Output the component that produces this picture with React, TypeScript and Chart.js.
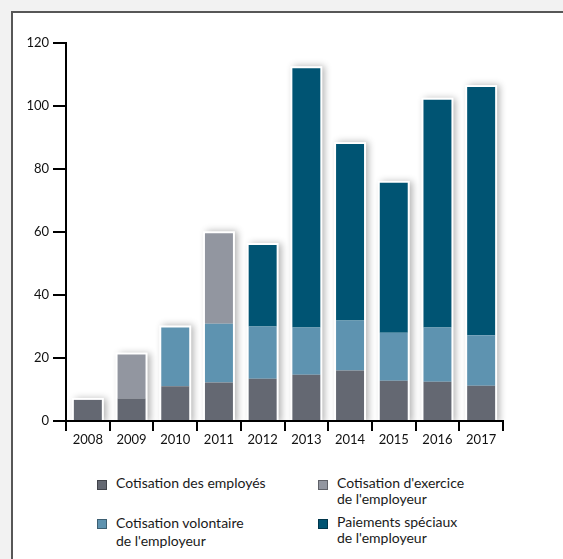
import React, { useEffect, useRef } from "react";
import { Chart, registerables } from "chart.js";

Chart.register(...registerables);

const years = ["2008", "2009", "2010", "2011", "2012", "2013", "2014", "2015", "2016", "2017"];
const employes = [6.7, 7.1, 11.0, 12.2, 13.4, 14.7, 16.0, 12.8, 12.5, 11.2];
const volontaire = [0, 0, 18.7, 18.7, 16.6, 15.0, 15.9, 15.2, 17.2, 16.0];
const exercice = [0, 14.0, 0, 28.7, 0, 0, 0, 0, 0, 0];
const speciaux = [0, 0, 0, 0, 25.9, 82.3, 56.0, 47.6, 72.3, 78.8];
const yTicks = [0, 20, 40, 60, 80, 100, 120];

const C_EMP = "#646872";
const C_EXE = "#9296a0";
const C_VOL = "#5e93b0";
const C_SPE = "#005473";

const legendItems = [
  { color: C_EMP, lines: ["Cotisation des employés"], left: 97, top: 475, lh: 16 },
  { color: C_EXE, lines: ["Cotisation d'exercice", "de l'employeur"], left: 318, top: 475, lh: 16 },
  { color: C_VOL, lines: ["Cotisation volontaire", "de l'employeur"], left: 97, top: 514, lh: 18 },
  { color: C_SPE, lines: ["Paiements spéciaux", "de l'employeur"], left: 318, top: 514, lh: 16 },
];

const stackFrame = {
  id: "stackFrame",
  beforeDatasetsDraw(chart: any) {
    const ctx = chart.ctx;
    const meta0 = chart.getDatasetMeta(0);
    const y = chart.scales.y;
    const area = chart.chartArea;
    ctx.save();
    ctx.beginPath();
    ctx.rect(area.left + 1, 0, area.right - area.left + 30, area.bottom - 1);
    ctx.clip();
    meta0.data.forEach((bar: any, i: number) => {
      let total = 0;
      chart.data.datasets.forEach((ds: any) => {
        total += ds.data[i] || 0;
      });
      const top = y.getPixelForValue(total);
      const base = y.getPixelForValue(0);
      const w = bar.width;
      ctx.shadowColor = "rgba(0,0,0,0.30)";
      ctx.shadowBlur = 7;
      ctx.shadowOffsetX = 3;
      ctx.shadowOffsetY = 0;
      ctx.fillStyle = "#ffffff";
      ctx.fillRect(bar.x - w / 2 - 2, top - 2, w + 4, base - top + 4);
    });
    ctx.restore();
  },
};

export default function App() {
  const ref = useRef<HTMLCanvasElement | null>(null);
  useEffect(() => {
    if (!ref.current) return;
    const font = { family: "Lato", size: 13 };
    const mk = (label: string, data: number[], color: string) => ({
      label,
      data,
      backgroundColor: color,
      borderWidth: 0,
      barPercentage: 0.64,
      categoryPercentage: 1,
      stack: "s",
    });
    const chart = new Chart(ref.current, {
      type: "bar",
      data: {
        labels: years,
        datasets: [
          mk("Cotisation des employés", employes, C_EMP),
          mk("Cotisation volontaire de l'employeur", volontaire, C_VOL),
          mk("Cotisation d'exercice de l'employeur", exercice, C_EXE),
          mk("Paiements spéciaux de l'employeur", speciaux, C_SPE),
        ],
      },
      options: {
        animation: false,
        responsive: false,
        layout: { padding: { left: 0, top: 43, right: 60, bottom: 0 } },
        plugins: { legend: { display: false }, tooltip: { enabled: false } },
        scales: {
          x: {
            stacked: true,
            z: 1,
            grid: {
              offset: true,
              drawOnChartArea: false,
              tickLength: 10,
              color: "#000",
              lineWidth: 2,
            },
            border: { display: true, color: "#000", width: 2 },
            ticks: { color: "#111", font, padding: 1, maxRotation: 0 },
            afterFit: (s: any) => {
              s.height = 39;
            },
          },
          y: {
            stacked: true,
            z: 1,
            min: 0,
            max: 120,
            afterBuildTicks: (s: any) => {
              s.ticks = yTicks.map((v) => ({ value: v }));
            },
            grid: {
              drawOnChartArea: false,
              tickLength: 13,
              color: "#000",
              lineWidth: 2,
            },
            border: { display: true, color: "#000", width: 2 },
            ticks: { color: "#111", font, padding: 4 },
            afterFit: (s: any) => {
              s.width = 66;
            },
          },
        },
      },
      plugins: [stackFrame],
    });
    return () => chart.destroy();
  }, []);

  return (
    <div
      style={{
        position: "absolute",
        left: 0,
        top: 0,
        width: 563,
        height: 559,
        background: "#f2f2f2",
        overflow: "hidden",
        fontFamily: "Lato",
      }}
    >
      <div
        style={{
          position: "absolute",
          left: 11,
          top: 11,
          width: 620,
          height: 620,
          background: "#ffffff",
          border: "2px solid #575757",
          boxSizing: "border-box",
        }}
      />
      <canvas
        ref={ref}
        width={563}
        height={460}
        style={{ position: "absolute", left: 0, top: 0, width: 563, height: 460 }}
      />
      {legendItems.map((it, k) => (
        <div key={k} style={{ position: "absolute", left: it.left, top: it.top }}>
          <div
            style={{
              position: "absolute",
              left: 0,
              top: 5,
              width: 10,
              height: 10,
              background: it.color,
              border: "1px solid rgba(0,0,0,0.35)",
              boxSizing: "border-box",
            }}
          />
          <div
            style={{
              position: "absolute",
              left: 19,
              top: 0,
              fontSize: 14,
              lineHeight: it.lh + "px",
              color: "#1a1a1a",
              whiteSpace: "nowrap",
            }}
          >
            {it.lines.map((l, j) => (
              <div key={j}>{l}</div>
            ))}
          </div>
        </div>
      ))}
    </div>
  );
}
